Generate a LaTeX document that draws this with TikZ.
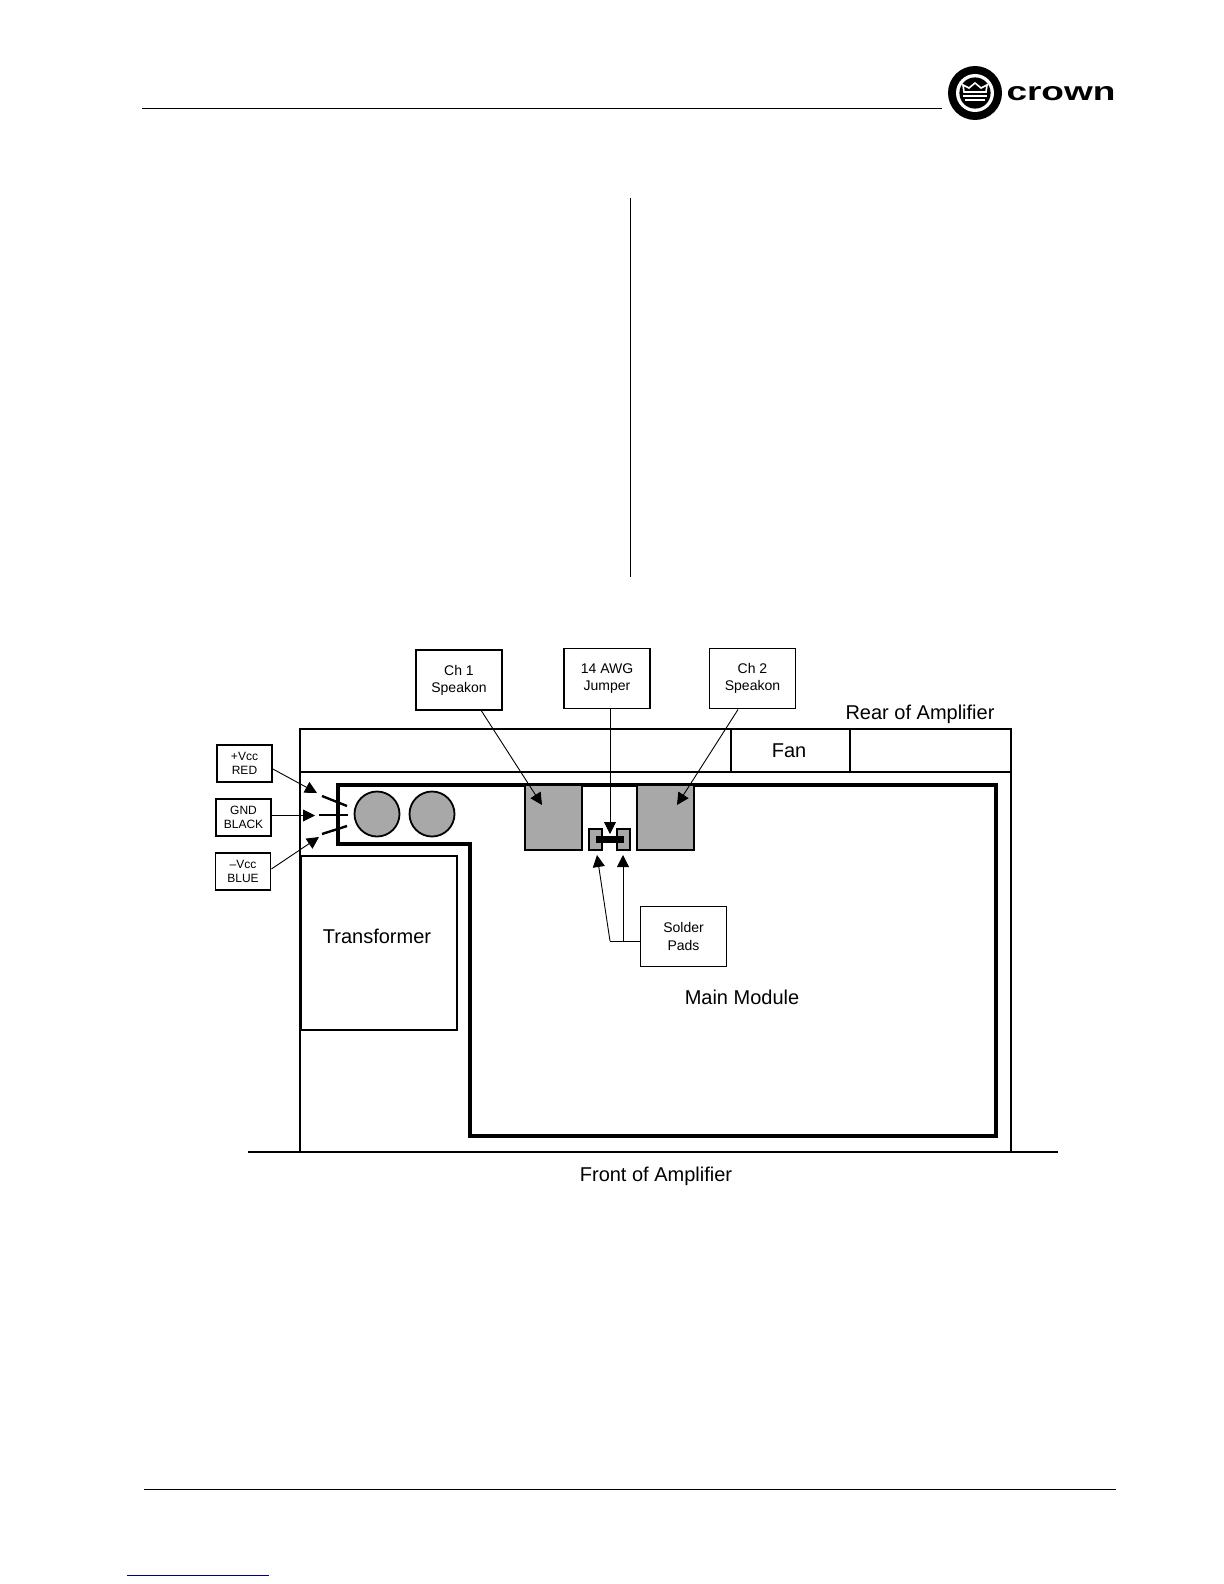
\documentclass[tikz,border=0pt]{standalone}
\usepackage{fontspec}
\setmainfont{Liberation Sans}
\usetikzlibrary{arrows.meta}
\usetikzlibrary{positioning}

\begin{document}
\begin{tikzpicture}[
  x=0.5pt,
  y=-0.5pt,
  every node/.style={font=\fontsize{10}{12}\selectfont},
  callout/.style={draw, line width=0.9pt, align=center, inner sep=0pt, minimum width=43pt, minimum height=30pt, font=\fontsize{7}{8.6}\selectfont},
  rail/.style={draw, line width=0.9pt, align=center, inner sep=0pt, minimum width=27.5pt, minimum height=18.5pt, font=\fontsize{6}{7}\selectfont, execute at begin node=\rule{0pt}{5.9pt}},
  speakon/.style={draw, line width=0.9pt, fill=gray!68, inner sep=0pt, minimum width=28.5pt, minimum height=32.5pt},
  pad/.style={draw, line width=0.9pt, fill=gray!68, inner sep=0pt, minimum width=6.5pt, minimum height=10.5pt},
  capacitor/.style={circle, draw, line width=0.9pt, fill=gray!68, inner sep=0pt, minimum size=22.5pt},
  lead/.style={line width=0.45pt, -{Triangle[length=6pt, width=6pt]}},
  stub/.style={line width=1.2pt},
  pagerule/.style={line width=0.4pt}
]

\useasboundingbox (0,0) rectangle (1224,1584);

% page furniture
\coordinate (HeadL) at (142,108);
\coordinate (HeadR) at (942,108);
\draw[pagerule] (HeadL) -- (HeadR);
\coordinate (ColT) at (630,198);
\coordinate (ColB) at (630,577);
\draw[pagerule] (ColT) -- (ColB);
\coordinate (FootL) at (144,1489.5);
\coordinate (FootR) at (1116,1489.5);
\draw[pagerule] (FootL) -- (FootR);
\coordinate (LinkL) at (127,1575);
\coordinate (LinkR) at (269,1575);
\draw[pagerule, color=blue!50!black] (LinkL) -- (LinkR);

% logo
\fill (975,93) circle (13.5pt);
\fill[white] (975,93) circle (9.5pt);
\fill (975,93) circle (7.8pt);
\draw[white, line width=0.8pt] (964,92) -- (963,85) -- (969,88) -- (975,83) -- (981,88) -- (987,85) -- (986,92) -- cycle;
\fill[white] (963,95) rectangle (987,97);
\fill[white] (965,99) rectangle (985,101);
\node[inner sep=0pt] (brand) at (1061,94) {\resizebox{54.5pt}{7pt}{\textbf{crown}}};

% chassis
\draw[line width=0.9pt] (300,729) rectangle (1011,1152);
\draw[line width=0.9pt] (300,772) -- (1011,772);
\draw[line width=0.9pt] (731,729) -- (731,772);
\draw[line width=0.9pt] (850,729) -- (850,772);
\draw[line width=0.9pt] (248,1152) -- (1058,1152);
\draw[line width=2pt] (338,785) -- (996,785) -- (996,1136) -- (470,1136) -- (470,844) -- (338,844) -- cycle;
\node[draw, line width=0.9pt, inner sep=0pt, minimum width=78pt, minimum height=87pt] (xfmr) at (379,943) {};

\node (fan) at (789,751) {Fan};
\node (rear) at (920,714) {Rear of Amplifier};
\node (front) at (656,1176) {Front of Amplifier};
\node (mainmod) at (742,997) {Main Module};
\node (xfmrlabel) at (377,936) {Transformer};

\node[capacitor] (C1) at (377,814) {};
\node[capacitor] (C2) at (432,814) {};

\node[speakon] (S1) at (553.5,817.5) {};
\node[speakon] (S2) at (665.5,817.5) {};
\node[pad] (P1) at (595.5,839.5) {};
\node[pad] (P2) at (623.5,839.5) {};
\fill (596,836) rectangle (624,843);

% callouts
\node[callout] (Ch1) at (459,680) {Ch 1\\Speakon};
\node[callout] (Jmp) at (607,678.5) {14 AWG\\Jumper};
\node[callout] (Ch2) at (752.5,678.5) {Ch 2\\Speakon};
\node[callout] (Sol) at (683.5,936.5) {Solder\\Pads};

\node[rail] (Vp) at (244.5,763.5) {+Vcc\\RED};
\node[rail] (Gnd) at (243.5,817.5) {GND\\BLACK};
\node[rail] (Vm) at (243,871.5) {–Vcc\\BLUE};

\coordinate (T1) at (542,805);
\coordinate (T2) at (677,805);
\coordinate (TJ) at (610,834);
\coordinate (TP1) at (597,855);
\coordinate (TP2) at (623,855);
\coordinate (E1) at (610,941);
\coordinate (E2) at (623,941);

\draw[lead] (Ch1.-54) -- (T1);
\draw[lead] (Ch2.-115) -- (T2);
\draw[lead] (Jmp.south -| TJ) -- (TJ);
\draw[line width=0.45pt] (Sol.west |- E1) -- (E1);
\draw[lead] (E1) -- (TP1);
\draw[lead] (E2) -- (TP2);

\coordinate (TA) at (317,793);
\coordinate (TB) at (315,815.5);
\coordinate (TC) at (319,837);
\draw[lead] (Vp.-11) -- (TA);
\draw[lead] (Gnd.east |- TB) -- (TB);
\draw[lead] (Vm.5) -- (TC);

\coordinate (A1) at (322,796);
\coordinate (A2) at (347,806);
\coordinate (B1) at (319,815);
\coordinate (B2) at (348,815);
\coordinate (D1) at (322,834);
\coordinate (D2) at (347,826);
\draw[stub] (A1) -- (A2);
\draw[stub] (B1) -- (B2);
\draw[stub] (D1) -- (D2);

\end{tikzpicture}
\end{document}
